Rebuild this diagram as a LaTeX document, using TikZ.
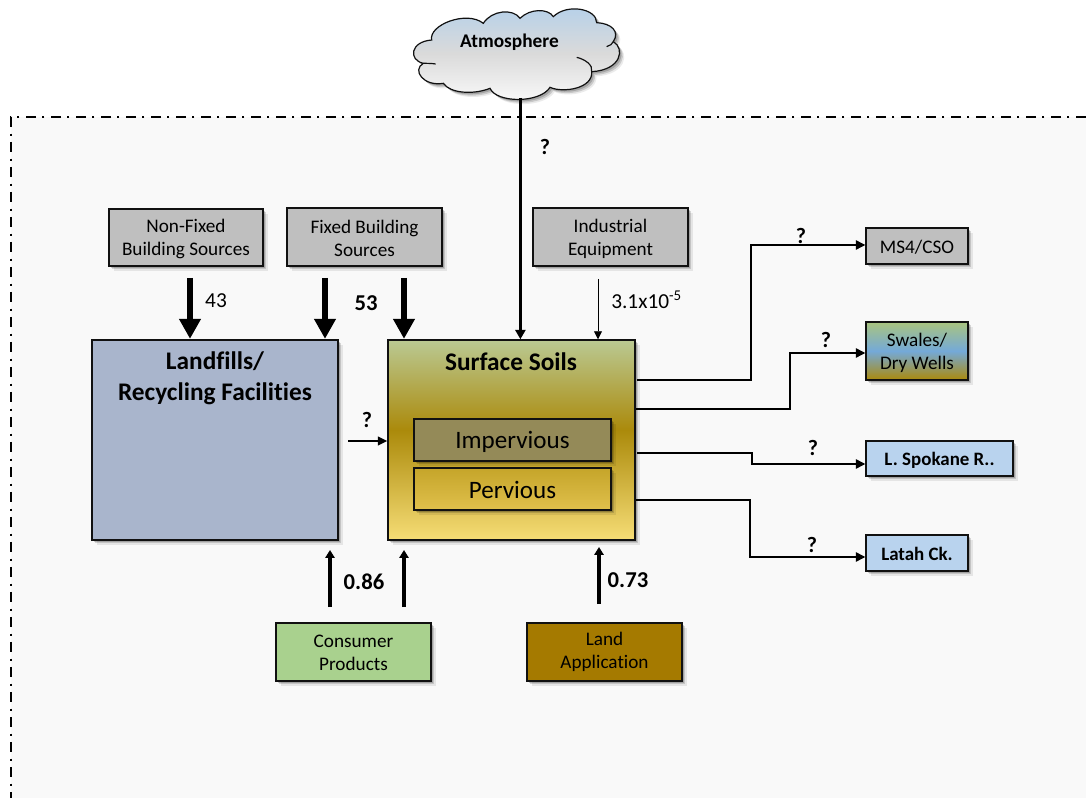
\documentclass[tikz,border=0pt]{standalone}
\usepackage{fontspec}
\setmainfont{Carlito}[Ligatures=CommonOff]
\usetikzlibrary{arrows.meta,shadows,calc}
\definecolor{pagegray}{HTML}{F9F9F9}
\definecolor{boxgray}{HTML}{BFBFBF}
\definecolor{inkblk}{HTML}{111111}
\definecolor{landblue}{HTML}{A9B5CC}
\definecolor{lightblue}{HTML}{B9D3EE}
\definecolor{consgreen}{HTML}{A9D18E}
\definecolor{landbrown}{HTML}{A57A00}
\definecolor{imperv}{HTML}{948A58}
\definecolor{soilbot}{HTML}{F6DD76}
\definecolor{soilmid}{HTML}{AB8A0B}
\definecolor{soiltop}{HTML}{BAC993}
\definecolor{pervbot}{HTML}{E0C04C}
\definecolor{pervtop}{HTML}{C5A52A}
\definecolor{swalemid}{HTML}{74A9D8}
\definecolor{swaletop}{HTML}{A9C47F}
\definecolor{cloudbot}{HTML}{FAFAFA}
\definecolor{cloudmid}{HTML}{DADADA}
\definecolor{cloudtop}{HTML}{B4D0EA}
\pgfdeclareverticalshading{soilshade}{100bp}{color(0bp)=(soilbot);color(25bp)=(soilbot);color(52.5bp)=(soilmid);color(75bp)=(soiltop);color(100bp)=(soiltop)}
\pgfdeclareverticalshading{pervshade}{100bp}{color(0bp)=(pervbot);color(25bp)=(pervbot);color(75bp)=(pervtop);color(100bp)=(pervtop)}
\pgfdeclareverticalshading{swaleshade}{100bp}{color(0bp)=(soilmid);color(25bp)=(soilmid);color(50bp)=(swalemid);color(75bp)=(swaletop);color(100bp)=(swaletop)}
\pgfdeclareverticalshading{cloudshade}{100bp}{color(0bp)=(cloudbot);color(25bp)=(cloudbot);color(50bp)=(cloudmid);color(75bp)=(cloudtop);color(100bp)=(cloudtop)}
\tikzset{
  softshadow/.style={
    general shadow={shadow xshift=1.5pt,shadow yshift=-1.5pt,fill=black,opacity=.18},
    general shadow={shadow xshift=2.5pt,shadow yshift=-2.5pt,fill=black,opacity=.14},
    general shadow={shadow xshift=3.5pt,shadow yshift=-3.5pt,fill=black,opacity=.08}},
  base/.style={draw=inkblk,line width=1.1pt,softshadow,align=center,inner sep=0pt,text=black,
     text height=12pt,font=\fontsize{14.4}{17.25}\selectfont},
  twoline/.style={text height=30pt},
  twolinelow/.style={text height=27.5pt},
  srcbox/.style={base,fill=boxgray},
  bold big/.style={font=\fontsize{19}{23.25}\selectfont\bfseries},
  big plain/.style={font=\fontsize{18.8}{22}\selectfont},
  small bold/.style={font=\fontsize{14.2}{17}\selectfont\bfseries},
  thick arrow/.style={line width=5.2pt,-{Triangle[width=15.5pt,length=15pt]},shorten >=0.3pt},
  mid arrow/.style={line width=2.4pt,-{Triangle[width=7pt,length=6pt]}},
  atmo arrow/.style={line width=2.2pt,-{Triangle[width=7.5pt,length=7pt]}},
  flow/.style={line width=1pt,-{Triangle[width=7pt,length=7pt]}},
  lab/.style={font=\fontsize{16}{18}\selectfont,inner sep=0pt,text=black},
  blab/.style={font=\fontsize{17}{20}\selectfont\bfseries,inner sep=0pt,text=black},
  qlab/.style={font=\fontsize{16.5}{20}\selectfont\bfseries,inner sep=0pt,text=black},
}
\newcommand{\boxat}[7][]{%
  \node[#2,minimum width=#5*0.75pt-#4*0.75pt,minimum height=#7*0.75pt-#6*0.75pt,#1] (#3)
    at ({(#4+#5)/2},{(#6+#7)/2})}
\begin{document}
\begin{tikzpicture}[x=0.75pt,y=-0.75pt]
\useasboundingbox (0,0) rectangle (1086,798);
\fill[white] (0,0) rectangle (1086,798);
% system boundary
\fill[pagegray] (11,117) rectangle (1086,798);
\draw[line width=1.6pt,dash pattern=on 7.5pt off 4.9pt on 1.5pt off 4.85pt] (1086,117) -- (11,117) -- (11,798);

\coordinate (atmostart) at (520.4,98);

% cloud
\begin{scope}[shift={(380,0)},x=0.25pt,y=-0.25pt]
\path[softshadow,draw=inkblk,line width=0.9pt,shading=cloudshade]
 (155,120) .. controls (145,75) and (260,30) .. (310,70)
 .. controls (335,30) and (400,25) .. (420,55)
 .. controls (450,25) and (505,25) .. (520,50)
 .. controls (560,10) and (650,25) .. (650,68)
 .. controls (695,70) and (720,95) .. (700,125)
 .. controls (735,145) and (725,210) .. (635,215)
 .. controls (640,265) and (550,280) .. (510,262)
 .. controls (480,310) and (350,310) .. (330,265)
 .. controls (280,285) and (210,280) .. (190,250)
 .. controls (130,260) and (95,210) .. (130,190)
 .. controls (85,180) and (90,125) .. (155,120) -- cycle;
\draw[inkblk,line width=0.9pt] (130,190) .. controls (140,190) and (155,190) .. (167,192);
\draw[inkblk,line width=0.9pt] (590,172) .. controls (615,178) and (640,195) .. (635,215);
\draw[inkblk,line width=0.9pt] (680,140) .. controls (690,137) and (697,132) .. (700,125);
\end{scope}
\node[font=\fontsize{14.5}{17}\selectfont\bfseries,inner sep=0pt] (atmo) at (509.5,42) {Atmosphere};

% boxes
\boxat[twoline]{srcbox}{nonfixed}{109}{263}{209}{266} {Non-Fixed\\Building Sources};
\boxat[twoline]{srcbox}{fixed}{287}{442}{208}{266} {Fixed Building\\Sources};
\boxat[twoline]{srcbox}{indust}{533}{688}{208}{266} {Industrial\\Equipment};
\boxat[fill=landblue]{base}{landfill}{92}{338}{340}{540} {};
\boxat[shading=soilshade]{base}{soil}{388}{635}{340}{540} {};
\node[bold big,align=center,inner sep=0pt] (landtitle) at (215,378) {Landfills/\\Recycling Facilities};
\node[bold big,inner sep=0pt] (soiltitle) at (511,362) {Surface Soils};
\boxat[fill=imperv,big plain,text height=16.5pt]{base}{impervious}{414}{611}{419}{461} {Impervious};
\boxat[shading=pervshade,big plain,text height=14pt]{base}{pervious}{414}{611}{468}{510} {Pervious};
\boxat{srcbox}{ms4}{866}{968}{228}{264} {MS4/CSO};
\boxat[shading=swaleshade,twoline]{base}{swales}{866}{968}{322}{380} {Swales/\\Dry Wells};
\boxat[fill=lightblue,small bold]{base}{spokane}{866}{1013}{441}{476} {L. Spokane R..};
\boxat[fill=lightblue,small bold]{base}{latah}{866}{968}{535}{571} {Latah Ck.};
\boxat[fill=consgreen,twolinelow]{base}{consumer}{276}{431}{623}{681} {Consumer\\Products};
\boxat[fill=landbrown,twolinelow]{base}{landapp}{527}{682}{623}{681} {Land\\Application};

% free ends
\coordinate (a43) at (190,278);
\coordinate (a53l) at (325,278);
\coordinate (a53r) at (404,278);
\coordinate (aind) at (598,279);
\coordinate (aq) at (348,441);
\coordinate (acl) at (330,607);
\coordinate (acr) at (404,607);
\coordinate (ala) at (599,604);
\coordinate (aup1) at (330,550);
\coordinate (aup2) at (404,550);
\coordinate (aup3) at (599,547);
\coordinate (o1) at (637,380);
\coordinate (o2) at (636,409);
\coordinate (o3) at (637,453);
\coordinate (o4) at (636,500);

% thick arrows
\draw[thick arrow] (a43) -- (a43 |- landfill.north);
\draw[thick arrow] (a53l) -- (a53l |- landfill.north);
\draw[thick arrow] (a53r) -- (a53r |- soil.north);
% atmosphere
\draw[atmo arrow] (atmostart) -- (atmostart |- soil.north);
% thin
\draw[line width=0.6pt,-{Triangle[width=6pt,length=6pt]}] (aind) -- (aind |- soil.north);
\draw[line width=1.3pt,-{Triangle[width=6.5pt,length=7pt]}] (aq) -- (aq -| soil.west);
% upward
\draw[mid arrow] (acl) -- (aup1);
\draw[mid arrow] (acr) -- (aup2);
\draw[mid arrow] (ala) -- (aup3);
% outflows
\draw[flow] (o1) -- (751,380) -- (751,245) -- (ms4.west |- 0,245);
\draw[flow] (o2) -- (790,409) -- (790,353) -- (swales.west |- 0,353);
\draw[flow] (o3) -- (752,453) -- (752,464) -- (spokane.west |- 0,464);
\draw[flow] (o4) -- (750,500) -- (750,557) -- (latah.west |- 0,557);

% labels
\node[qlab] (q1) at (545,147) {?};
\node[lab] (l43) at (216,301) {43};
\node[blab] (l53) at (366,303) {53};
\node[lab,anchor=west] (l31) at (611,300) {3.1x10\textsuperscript{-5}};
\node[qlab] (q2) at (367,420) {?};
\node[blab] (l86) at (364,582) {0.86};
\node[blab] (l73) at (628,580) {0.73};
\node[qlab] (q3) at (801,236) {?};
\node[qlab] (q4) at (826,340) {?};
\node[qlab] (q5) at (813,448) {?};
\node[qlab] (q6) at (812,545) {?};
\end{tikzpicture}
\end{document}
